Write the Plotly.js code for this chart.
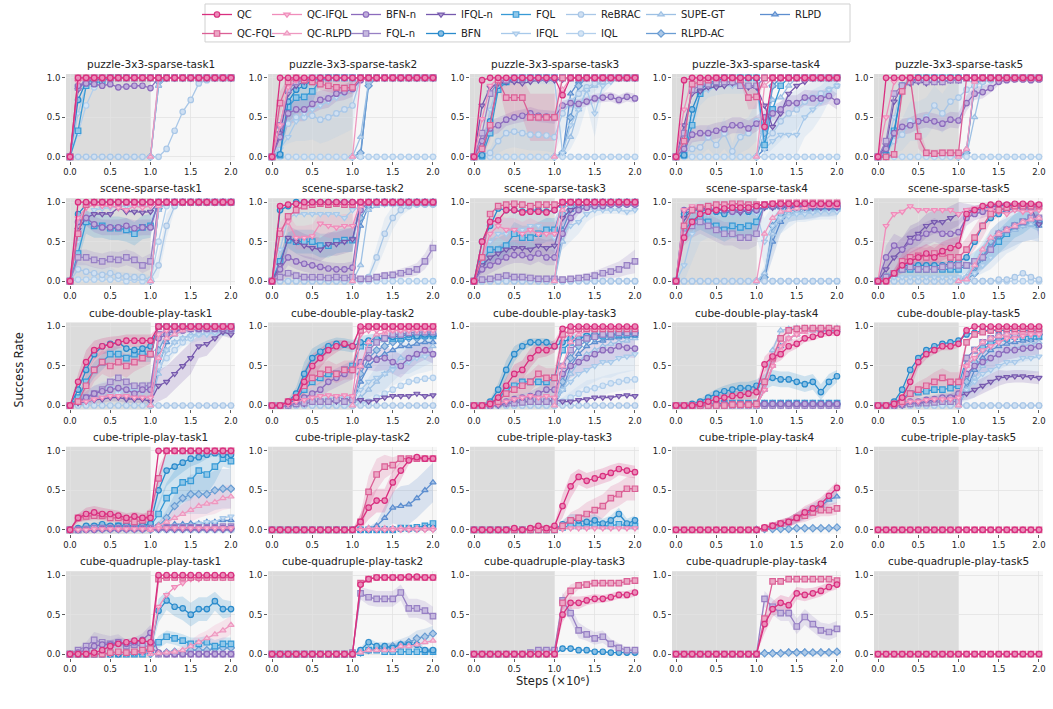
<!DOCTYPE html>
<html><head><meta charset="utf-8">
<script src="https://cdn.plot.ly/plotly-3.0.1.min.js"></script>
<style>html,body{margin:0;padding:0;background:#fff}#chart{width:1053px;height:709px}</style>
</head><body><div id="chart"></div>
<script>
// ---------- data ----------
const STEPS = [0,0.1,0.2,0.3,0.4,0.5,0.6,0.7,0.8,0.9,1.0,1.1,1.2,1.3,1.4,1.5,1.6,1.7,1.8,1.9,2.0];
const ONLINE_STEPS = [1.0,1.1,1.2,1.3,1.4,1.5,1.6,1.7,1.8,1.9,2.0];
const X_TICKS = [0,0.5,1,1.5,2];
const X_TICK_TEXT = ['0.0','0.5','1.0','1.5','2.0'];
const Y_TICKS = [0,0.5,1];
const Y_TICK_TEXT = ['0.0','0.5','1.0'];
const Z21 = [0,0,0,0,0,0,0,0,0,0,0,0,0,0,0,0,0,0,0,0,0];
const Z11 = [0,0,0,0,0,0,0,0,0,0,0];

const puzzle1 = {
 QC:[0,1,1,1,1,1,1,1,1,1,1, 1,1,1,1,1,1,1,1,1,1],
 QCFQL:[0,1,1,1,1,1,1,1,1,1,1, 1,1,1,1,1,1,1,1,1,1],
 QCIFQL:[0,.95,1,1,1,1,1,1,1,1,1, 1,1,1,1,1,1,1,1,1,1],
 QCRLPD:[0, 1,1,1,1,1,1,1,1,1,1],
 BFNn:[0,.9,.93,.92,.9,.92,.88,.89,.9,.9,.87, 1,1,1,1,1,1,1,1,1,1],
 FQLn:[0,.88,.98,1,1,1,1,1,1,1,1, 1,1,1,1,1,1,1,1,1,1],
 IFQLn:[0,.85,.97,.97,.98,1,1,1,1,1,1, 1,1,1,1,1,1,1,1,1,1],
 BFN:[0,.72,.95,.97,1,1,1,1,1,1,1, 1,1,1,1,1,1,1,1,1,1],
 FQL:[0,.33,.9,.93,.96,1,1,1,1,1,1, 1,1,1,1,1,1,1,1,1,1],
 IFQL:[0,.55,.9,.97,1,1,1,1,1,1,1, 1,1,1,1,1,1,1,1,1,1],
 ReBRAC:[0,0,0,0,0,0,0,0,0,0,0, 0,.1,.33,.57,.72,.93,.97,1,1,1],
 IQL:[0,.3,.65,.88,.95,.97,1,1,1,1,1, 1,1,1,1,1,1,1,1,1,1],
 SUPEGT:[0, .9,1,1,1,1,1,1,1,1,1],
 RLPDAC:[0, .95,1,1,1,1,1,1,1,1,1],
 RLPD:[0, .9,1,1,1,1,1,1,1,1,1]
};
const puzzle2 = {
 QC:[0,1,1,1,1,1,1,1,1,1,1, 1,1,1,1,1,1,1,1,1,1],
 QCFQL:[0,.68,.95,1,.97,.95,.92,.9,.88,.87,.88, 1,1,1,1,1,1,1,1,1,1],
 QCIFQL:[0,.4,.88,.97,1,1,1,1,1,1,1, 1,1,1,1,1,1,1,1,1,1],
 QCRLPD:[0, 1,1,1,1,1,1,1,1,1,1],
 BFNn:[0,.25,.55,.6,.6,.67,.72,.74,.8,.82,.86, .97,1,1,1,1,1,1,1,1,1],
 FQLn:[0,.4,.85,.95,.97,1,1,1,1,1,1, 1,1,1,1,1,1,1,1,1,1],
 IFQLn:[0,.3,.8,.9,.95,1,1,1,1,1,1, 1,1,1,1,1,1,1,1,1,1],
 BFN:[0,.03,.7,.85,.9,.97,1,1,1,1,1, 1,1,1,1,1,1,1,1,1,1],
 FQL:[0,.02,.63,.75,.76,.83,.97,1,1,1,1, 1,1,1,1,1,1,1,1,1,1],
 IFQL:[0,.1,.25,.45,.55,.6,.65,.7,.75,.8,.85, 1,1,1,1,1,1,1,1,1,1],
 ReBRAC:[0,.3,.42,.5,.5,.52,.47,.5,.55,.6,.65, 1,1,1,1,1,1,1,1,1,1],
 IQL:Z21,
 SUPEGT:[0, .25,.95,1,1,1,1,1,1,1,1],
 RLPDAC:[0, .05,.9,1,1,1,1,1,1,1,1],
 RLPD:[0, 0,.95,1,1,1,1,1,1,1,1]
};
const puzzle3 = {
 QC:[0,.97,1,1,1,1,1,1,1,1,1, .78,1,1,1,1,1,1,1,1,1],
 QCFQL:[0,.1,.4,.97,.75,.75,.75,.5,.5,.5,.5, 1,1,1,1,1,1,1,1,1,1],
 QCIFQL:[0,.48,.9,1,1,1,1,1,1,1,1, 1,1,1,1,1,1,1,1,1,1],
 QCRLPD:[0, .85,1,1,1,1,1,1,1,1,1],
 BFNn:[0,.2,.36,.4,.47,.5,.52,.55,.52,.51,.5, .65,.68,.67,.7,.74,.75,.76,.72,.76,.74],
 FQLn:[0,.3,.8,.95,.97,1,1,1,1,1,1, 1,1,1,1,1,1,1,1,1,1],
 IFQLn:[0,.65,.88,.93,.95,.95,.93,.95,.97,.97,.97, .98,1,1,1,1,1,1,1,1,1],
 BFN:[0,.02,.45,.9,.95,1,1,1,1,1,1, 1,1,1,1,1,1,1,1,1,1],
 FQL:[0,.01,.3,.85,.95,.98,1,1,1,1,1, 1,1,1,1,1,1,1,1,1,1],
 IFQL:[0,.1,.6,.9,.95,.97,.97,.98,.97,.97,.97, .05,.4,.6,.85,.55,.9,.95,1,1,1],
 ReBRAC:[0,.04,.05,.2,.3,.32,.3,.28,.28,.27,.25, .55,.7,.8,.88,.93,.96,1,1,1,1],
 IQL:Z21,
 SUPEGT:[0, .02,.25,.6,.85,.9,.95,1,1,1,1],
 RLPDAC:[0, .05,.5,.9,1,1,1,1,1,1,1],
 RLPD:[0, .02,.8,.95,1,1,1,1,1,1,1]
};
const puzzle4 = {
 QC:[0,.97,1,1,1,1,1,1,1,1,1, .38,1,1,1,1,1,1,1,1,1],
 QCFQL:[0,.2,.92,.95,.97,1,1,1,.98,.75,.76, 1,1,1,1,1,1,1,1,1,1],
 QCIFQL:[0,.6,1,1,1,1,1,1,1,1,1, 1,1,1,1,1,1,1,1,1,1],
 QCRLPD:[0, .9,1,1,1,1,1,1,1,1,1],
 BFNn:[0,.1,.28,.3,.3,.33,.35,.4,.4,.36,.42, .5,.55,.6,.68,.68,.75,.74,.74,.77,.7],
 FQLn:[0,.3,.85,.9,.92,.95,.95,.95,.9,.9,.9, 1,1,1,1,1,1,1,1,1,1],
 IFQLn:[0,.4,.8,.83,.88,.88,.9,.93,.93,.88,.88, .65,.38,.55,.8,.9,.95,1,1,1,1],
 BFN:[0,.02,.6,.85,.93,.97,1,1,1,1,1, 1,1,1,1,1,1,1,1,1,1],
 FQL:[0,.02,.4,.8,.9,.95,1,1,1,1,1, .15,.6,.9,1,1,1,1,1,1,1],
 IFQL:[0,.1,.5,.8,.85,.88,.9,.9,.9,.9,.9, .1,.2,.28,.28,.28,.5,.6,.7,.85,.9],
 ReBRAC:[0,.05,.1,.12,.25,.15,.3,.07,.25,.3,.45, .2,.3,.45,.55,.6,.7,.75,.8,.85,.9],
 IQL:Z21,
 SUPEGT:[0, .5,.72,.75,.9,1,1,1,1,1,1],
 RLPDAC:[0, .3,.9,1,1,1,1,1,1,1,1],
 RLPD:[0, .1,.9,1,1,1,1,1,1,1,1]
};
const puzzle5 = {
 QC:[0,1,1,1,1,1,1,1,1,1,1, 1,1,1,1,1,1,1,1,1,1],
 QCFQL:[0,0,.03,.83,1,.26,.05,.04,.05,.05,.05, 1,1,1,1,1,1,1,1,1,1],
 QCIFQL:[0,.5,.95,1,1,1,1,1,1,1,1, 1,1,1,1,1,1,1,1,1,1],
 QCRLPD:[0, .1,.95,1,1,1,1,1,1,1,1],
 BFNn:[0,.1,.3,.38,.4,.45,.47,.45,.42,.47,.46, .68,.8,.82,.87,.95,.97,.98,.98,.97,.98],
 FQLn:[0,.2,.8,.9,.95,.97,.95,.95,.95,.97,.97, 1,1,1,1,1,1,1,1,1,1],
 IFQLn:[0,.15,.7,.9,.93,.95,.93,.95,.95,.97,.97, 1,1,1,1,1,1,1,1,1,1],
 BFN:[0,0,.3,.9,.95,1,1,1,1,1,1, 1,1,1,1,1,1,1,1,1,1],
 FQL:[0,.02,.33,.9,.95,1,1,1,1,1,1, 1,1,1,1,1,1,1,1,1,1],
 IFQL:[0,.1,.5,.9,.95,.97,1,1,1,1,1, 1,1,1,1,1,1,1,1,1,1],
 ReBRAC:[0,.05,.2,.28,.45,.45,.5,.65,.55,.7,.75, .85,.9,.95,.97,1,1,1,1,1,1],
 IQL:Z21,
 SUPEGT:[0, .02,.5,.95,1,1,1,1,1,1,1],
 RLPDAC:[0, .05,.95,1,1,1,1,1,1,1,1],
 RLPD:[0, .1,.9,1,1,1,1,1,1,1,1]
};
const scene1 = {
 QC:[0,1,1,1,1,1,1,1,1,1,1, 1,1,1,1,1,1,1,1,1,1],
 QCFQL:[0,.6,.97,1,1,1,1,1,1,1,1, 1,1,1,1,1,1,1,1,1,1],
 QCIFQL:[0,.8,.93,.97,.95,.95,.93,.9,.95,.93,.95, 1,1,1,1,1,1,1,1,1,1],
 QCRLPD:[0, .95,1,1,1,1,1,1,1,1,1],
 BFNn:[0,.75,.8,.72,.68,.68,.68,.7,.67,.68,.68, 1,1,1,1,1,1,1,1,1,1],
 FQLn:[0,.3,.3,.27,.25,.28,.27,.3,.27,.2,.25, 1,1,1,1,1,1,1,1,1,1],
 IFQLn:[0,.65,.8,.85,.85,.85,.93,.88,.88,.87,.88, 1,1,1,1,1,1,1,1,1,1],
 BFN:[0,.85,.97,1,1,1,1,1,1,1,1, 1,1,1,1,1,1,1,1,1,1],
 FQL:[0,.35,.75,.7,.7,.67,.67,.65,.6,.68,.7, 1,1,1,1,1,1,1,1,1,1],
 IFQL:[0,.5,.8,.9,.92,.93,.95,.95,.95,.95,.95, 1,1,1,1,1,1,1,1,1,1],
 ReBRAC:[0,.15,.12,.1,.08,.1,.07,.06,.05,.05,.02, .2,.7,.95,1,1,1,1,1,1,1],
 IQL:[0,.02,.02,.02,.03,.02,.03,0,.02,0,0, .5,.95,1,1,1,1,1,1,1,1],
 SUPEGT:[0, .9,1,1,1,1,1,1,1,1,1],
 RLPDAC:[0, .92,1,1,1,1,1,1,1,1,1],
 RLPD:[0, .9,1,1,1,1,1,1,1,1,1]
};
const scene2 = {
 QC:[0,.95,.97,.98,1,1,1,1,1,1,1, 1,1,1,1,1,1,1,1,1,1],
 QCFQL:[0,.6,.82,.9,.95,.97,.98,.97,.98,.97,.97, 1,1,1,1,1,1,1,1,1,1],
 QCIFQL:[0,.65,.75,.55,.55,.57,.73,.7,.68,.7,.7, 1,1,1,1,1,1,1,1,1,1],
 QCRLPD:[0, .95,1,1,1,1,1,1,1,1,1],
 BFNn:[0,.15,.3,.25,.22,.2,.18,.16,.15,.15,.17, .9,1,1,1,1,1,1,1,1,1],
 FQLn:[0,.05,.1,.07,.05,.05,.05,.04,.05,.04,.05, .03,.03,.05,.07,.08,.1,.12,.15,.25,.42],
 IFQLn:[0,.2,.55,.5,.45,.42,.4,.47,.47,.5,.53, .97,1,1,1,1,1,1,1,1,1],
 BFN:[0,.9,.95,1,1,1,1,1,1,1,1, 1,1,1,1,1,1,1,1,1,1],
 FQL:[0,.25,.52,.5,.5,.5,.45,.45,.5,.52,.52, .97,1,1,1,1,1,1,1,1,1],
 IFQL:[0,.4,.8,.85,.85,.85,.85,.85,.85,.8,.9, .95,.97,.97,.97,.97,.97,.97,.97,.97,.97],
 ReBRAC:[0,0,0,0,0,0,0,0,0,0,0, .02,.05,.3,.6,.8,.9,.95,.97,.97,.97],
 IQL:Z21,
 SUPEGT:[0, .2,.9,.95,.97,.97,.97,.97,.97,.97,.97],
 RLPDAC:[0, .8,.97,1,1,1,1,1,1,1,1],
 RLPD:[0, .7,.95,1,1,1,1,1,1,1,1]
};
const scene3 = {
 QC:[0,.5,.75,.77,.9,.9,.87,.88,.88,.87,.9, 1,1,1,1,1,1,1,1,1,1],
 QCFQL:[0,.3,.85,.95,.97,.98,.97,.95,.97,.97,.97, 1,1,1,1,1,1,1,1,1,1],
 QCIFQL:[0,.3,.6,.7,.65,.65,.6,.65,.6,.6,.6, 1,1,1,1,1,1,1,1,1,1],
 QCRLPD:[0, .9,1,1,1,1,1,1,1,1,1],
 BFNn:[0,.15,.2,.25,.3,.33,.33,.3,.35,.3,.3, .6,.8,.9,.93,.95,.95,.97,.97,.97,.97],
 FQLn:[0,.02,.03,.05,.07,.05,.05,.04,.03,.03,.03, .02,.03,.04,.05,.07,.1,.12,.15,.2,.25],
 IFQLn:[0,.2,.3,.35,.4,.42,.42,.4,.45,.42,.45, .8,.9,.95,.97,.97,.97,.97,.97,.97,.97],
 BFN:[0,.5,.7,.92,.9,.9,.88,.9,.9,.88,.9, 1,1,1,1,1,1,1,1,1,1],
 FQL:[0,.25,.4,.4,.45,.6,.55,.55,.6,.65,.65, .97,1,1,1,1,1,1,1,1,1],
 IFQL:[0,.3,.5,.6,.6,.65,.65,.7,.7,.65,.55, .6,.7,.75,.85,.9,.9,.9,.9,.88,.9],
 ReBRAC:Z21,
 IQL:Z21,
 SUPEGT:[0, .5,.8,.9,.95,.97,.97,.97,.97,.97,.97],
 RLPDAC:[0, .85,.95,1,1,1,1,1,1,1,1],
 RLPD:[0, .65,.9,.95,.97,.97,.97,.97,.97,.97,.97]
};
const scene4 = {
 QC:[0,.55,.75,.85,.88,.9,.92,.93,.93,.93,.95, .97,.98,.98,.98,.98,.98,.98,.98,.98,.98],
 QCFQL:[0,.7,.9,.93,.95,.97,.97,.98,.98,.97,.97, .97,.98,.99,.99,.99,.99,.99,.99,.99,.99],
 QCIFQL:[0,.9,.95,.95,.95,.97,.97,.97,.97,.97,.97, .97,.97,.97,.97,.97,.97,.97,.97,.97,.97],
 QCRLPD:[0, .6,.8,.88,.9,.92,.93,.95,.95,.95,.95],
 BFNn:[0,.9,.92,.92,.9,.9,.9,.88,.9,.9,.9, .95,.95,.95,.95,.95,.95,.95,.95,.95,.95],
 FQLn:[0,.6,.7,.75,.7,.65,.6,.6,.55,.55,.6, .97,.97,.97,.97,.97,.97,.97,.97,.97,.97],
 IFQLn:[0,.8,.9,.92,.92,.9,.9,.88,.87,.9,.9, .93,.93,.93,.93,.93,.93,.93,.93,.93,.93],
 BFN:[0,.85,.9,.9,.9,.88,.85,.9,.9,.88,.9, .95,.95,.95,.95,.95,.95,.95,.95,.95,.95],
 FQL:[0,.65,.75,.8,.75,.7,.65,.7,.68,.7,.75, .95,.95,.95,.95,.95,.95,.95,.95,.95,.95],
 IFQL:[0,.2,.6,.8,.85,.85,.85,.85,.85,.85,.85, .5,.7,.8,.82,.85,.85,.87,.88,.88,.88],
 ReBRAC:Z21,
 IQL:Z21,
 SUPEGT:[0, .1,.6,.8,.85,.87,.88,.88,.9,.9,.9],
 RLPDAC:[0, .05,.7,.85,.9,.9,.92,.9,.92,.93,.93],
 RLPD:[0, .02,.5,.75,.85,.87,.88,.9,.9,.9,.92]
};
const scene5 = {
 QC:[0,0,.1,.2,.25,.3,.35,.3,.38,.42,.45, .85,.9,.95,.97,.98,.97,.98,.98,.98,.97],
 QCFQL:[0,0,.1,.25,.3,.32,.3,.35,.35,.3,.3, .4,.55,.7,.85,.9,.93,.95,.95,.95,.95],
 QCIFQL:[0,.7,.85,.88,.95,.9,.9,.9,.9,.9,.85, .9,.92,.93,.9,.88,.85,.9,.88,.88,.9],
 QCRLPD:[0, .02,.2,.4,.55,.6,.65,.7,.75,.78,.8],
 BFNn:[0,.3,.45,.4,.5,.55,.6,.65,.6,.6,.62, .8,.85,.88,.9,.92,.9,.93,.92,.93,.95],
 FQLn:[0,.05,.1,.15,.18,.15,.15,.15,.18,.2,.2, .2,.25,.3,.4,.6,.65,.7,.75,.8,.8],
 IFQLn:[0,.15,.3,.4,.55,.6,.7,.75,.75,.8,.85, .9,.9,.92,.95,.95,.97,.95,.95,.93,.72],
 BFN:[0,.05,.1,.2,.2,.2,.2,.2,.2,.22,.25, .3,.5,.7,.8,.85,.9,.92,.93,.95,.95],
 FQL:[0,.05,.1,.15,.15,.15,.15,.15,.15,.15,.15, .2,.25,.3,.4,.5,.6,.7,.75,.8,.75],
 IFQL:[0,.05,.05,.05,.05,.05,.05,.05,.05,.05,.05, .05,.1,.2,.3,.5,.6,.7,.75,.8,.8],
 ReBRAC:[0,0,0,0,0,0,0,0,0,0,0, 0,0,0,0,.02,.02,.05,.1,.05,.02],
 IQL:Z21,
 SUPEGT:[0, .05,.2,.3,.4,.5,.6,.65,.7,.72,.75],
 RLPDAC:[0, .02,.1,.3,.5,.6,.65,.7,.72,.75,.75],
 RLPD:[0, .05,.15,.3,.45,.55,.6,.65,.7,.72,.7]
};
const cubeDouble1 = {
 QC:[0,.3,.55,.7,.75,.77,.8,.82,.82,.82,.82, 1,1,1,1,1,1,1,1,1,1],
 QCFQL:[0,.05,.25,.45,.55,.5,.55,.5,.55,.6,.65, 1,1,1,1,1,1,1,1,1,1],
 QCIFQL:[0,.05,.05,.08,.1,.12,.12,.12,.1,.1,.1, .9,.95,.97,.98,1,1,1,1,1,1],
 QCRLPD:[0, .6,.85,.9,.95,.97,.98,.98,.98,.98,.98],
 BFNn:[0,.05,.1,.15,.18,.2,.22,.2,.15,.2,.2, .85,.9,.95,.95,.97,.97,.97,.97,.97,.97],
 FQLn:[0,.05,.1,.15,.2,.3,.35,.3,.25,.25,.25, .9,.95,.97,.97,.97,.97,.97,.97,.97,.97],
 IFQLn:[0,.03,.05,.07,.08,.1,.1,.08,.08,.08,.05, .25,.3,.4,.5,.6,.75,.78,.85,.93,.9],
 BFN:[0,.2,.45,.65,.75,.78,.8,.72,.7,.72,.75, 1,1,1,1,1,1,1,1,1,1],
 FQL:[0,.1,.3,.45,.55,.65,.65,.6,.65,.65,.65, 1,1,1,1,1,1,1,1,1,1],
 IFQL:[0,.05,.1,.15,.2,.22,.2,.2,.18,.18,.2, .6,.7,.8,.85,.88,.9,.9,.92,.93,.93],
 ReBRAC:Z21,
 IQL:[0,.02,.05,.08,.1,.12,.15,.2,.25,.25,.22, .5,.6,.7,.8,.85,.9,.92,.92,.93,.95],
 SUPEGT:[0, .4,.7,.8,.85,.9,.9,.92,.93,.95,.95],
 RLPDAC:[0, .7,.9,.95,.97,.98,.98,.98,.98,.98,.98],
 RLPD:[0, .5,.8,.9,.95,.97,.97,.97,.97,.97,.97]
};
const cubeDouble2 = {
 QC:[0,0,.05,.1,.3,.5,.6,.7,.75,.78,.75, 1,1,1,1,1,1,1,1,1,1],
 QCFQL:[0,0,.05,.1,.25,.35,.4,.45,.4,.45,.45, .95,1,1,1,1,1,1,1,1,1],
 QCIFQL:[0,0,.02,.05,.07,.1,.12,.13,.12,.13,.12, .9,.95,.95,.95,.95,.95,.95,.95,.95,.95],
 QCRLPD:[0, .5,.8,.9,.92,.95,.95,.96,.97,.97,.97],
 BFNn:[0,0,.02,.05,.1,.15,.2,.3,.35,.4,.45, .55,.6,.58,.6,.55,.5,.6,.65,.7,.65],
 FQLn:[0,0,0,.02,.03,.05,.05,.05,.07,.05,.07, .5,.7,.8,.85,.9,.9,.92,.93,.93,.93],
 IFQLn:[0,0,0,.02,.02,.05,.05,.05,.05,.07,.07, .07,.05,.07,.1,.12,.12,.12,.15,.12,.13],
 BFN:[0,0,.05,.15,.4,.6,.68,.75,.78,.77,.75, .8,.82,.85,.85,.87,.88,.9,.88,.9,.9],
 FQL:[0,0,.02,.08,.2,.3,.35,.4,.4,.45,.5, .75,.8,.82,.85,.85,.85,.87,.88,.88,.88],
 IFQL:[0,0,0,.02,.05,.05,.07,.08,.1,.1,.1, .2,.3,.35,.4,.45,.5,.55,.6,.62,.65],
 ReBRAC:Z21,
 IQL:[0,0,0,0,0,0,0,0,0,0,0, .02,.05,.1,.15,.2,.25,.3,.32,.34,.35],
 SUPEGT:[0, .1,.2,.3,.4,.5,.6,.6,.65,.7,.75],
 RLPDAC:[0, .4,.6,.7,.75,.8,.82,.85,.85,.87,.88],
 RLPD:[0, .3,.5,.6,.65,.7,.75,.75,.78,.8,.8]
};
const cubeDouble3 = {
 QC:[0,0,.02,.1,.25,.4,.45,.6,.7,.7,.75, .97,1,1,1,1,1,1,1,1,1],
 QCFQL:[0,0,.02,.05,.15,.2,.25,.3,.4,.35,.35, .9,.95,.97,.97,.97,.97,.97,.97,.97,.97],
 QCIFQL:[0,0,0,.02,.05,.08,.1,.12,.1,.12,.1, .85,.9,.95,.97,.97,.97,.97,.97,.97,.97],
 QCRLPD:[0, .5,.8,.9,.95,.95,.97,.97,.97,.98,.98],
 BFNn:[0,0,0,.02,.05,.08,.1,.12,.15,.2,.2, .4,.5,.55,.6,.65,.7,.7,.75,.73,.72],
 FQLn:[0,0,0,.02,.03,.03,.04,.05,.05,.05,.05, .5,.7,.8,.85,.87,.9,.9,.92,.92,.92],
 IFQLn:[0,0,0,0,.02,.03,.05,.05,.05,.05,.07, .05,.05,.07,.08,.1,.1,.1,.12,.13,.12],
 BFN:[0,0,.05,.2,.45,.65,.75,.8,.8,.8,.75, .8,.85,.85,.88,.9,.9,.9,.92,.92,.9],
 FQL:[0,0,.02,.08,.2,.25,.3,.3,.3,.3,.35, .7,.8,.85,.87,.88,.88,.9,.9,.9,.92],
 IFQL:[0,0,0,.02,.03,.05,.05,.05,.07,.07,.08, .2,.3,.4,.45,.5,.55,.55,.6,.62,.65],
 ReBRAC:Z21,
 IQL:[0,0,0,0,0,0,0,0,0,0,0, .05,.1,.15,.2,.22,.25,.28,.3,.32,.33],
 SUPEGT:[0, .2,.4,.55,.65,.7,.75,.78,.8,.82,.85],
 RLPDAC:[0, .3,.6,.75,.82,.85,.87,.88,.9,.9,.92],
 RLPD:[0, .2,.5,.65,.75,.8,.82,.85,.86,.87,.88]
};
const cubeDouble4 = {
 QC:[0,0,0,.02,.05,.08,.1,.12,.13,.15,.17, .52,.62,.65,.75,.78,.85,.87,.9,.92,.92],
 QCFQL:[0,0,0,0,0,0,0,.01,.01,.01,.02, .3,.6,.85,.95,.97,.98,.98,.98,.98,.97],
 QCIFQL:[0,0,0,0,0,0,0,0,0,0,0, .2,.5,.75,.85,.9,.95,.97,.97,.97,.97],
 QCRLPD:[0, .2,.5,.7,.85,.9,.93,.95,.97,.97,.97],
 BFNn:[0,0,0,0,.01,.01,.02,.02,.02,.02,.02, .02,.02,.02,.02,.02,.02,.02,.02,.02,.02],
 FQLn:Z21,
 IFQLn:Z21,
 BFN:[0,0,.02,.05,.1,.15,.18,.2,.22,.22,.25, .3,.35,.33,.33,.3,.27,.3,.17,.3,.37],
 FQL:[0,0,0,.01,.02,.02,.03,.03,.03,.03,.03, .03,.03,.03,.03,.03,.03,.03,.03,.03,.03],
 IFQL:Z21,
 ReBRAC:Z21,
 IQL:Z21,
 SUPEGT:[0, .3,.7,.95,.97,.98,.98,.98,.98,.98,.98],
 RLPDAC:[0, .02,.02,.02,.02,.02,.02,.02,.02,.02,.02],
 RLPD:[0, .2,.5,.75,.85,.9,.93,.95,.95,.95,.95]
};
const cubeDouble5 = {
 QC:[0,0,.02,.1,.3,.55,.65,.7,.75,.75,.78, .95,1,1,1,1,1,1,1,1,1],
 QCFQL:[0,0,.02,.05,.15,.2,.25,.3,.35,.3,.3, .8,.9,.93,.95,.97,.97,.97,.97,.97,.97],
 QCIFQL:[0,0,0,.02,.05,.05,.07,.08,.08,.08,.1, .5,.6,.7,.75,.8,.85,.85,.88,.9,.9],
 QCRLPD:[0, .5,.7,.8,.85,.88,.9,.92,.93,.93,.95],
 BFNn:[0,0,0,.02,.05,.05,.07,.08,.1,.1,.15, .4,.5,.55,.6,.65,.7,.7,.72,.73,.75],
 FQLn:[0,0,0,.01,.02,.03,.03,.04,.05,.05,.05, .6,.7,.8,.85,.88,.9,.9,.92,.93,.93],
 IFQLn:[0,0,0,0,.02,.03,.05,.07,.08,.1,.12, .15,.2,.25,.3,.35,.36,.37,.37,.36,.35],
 BFN:[0,0,.05,.2,.45,.6,.7,.75,.78,.8,.82, .9,.92,.95,.95,.95,.95,.95,.95,.95,.95],
 FQL:[0,0,.02,.08,.15,.17,.18,.2,.2,.22,.25, .6,.7,.75,.8,.85,.85,.87,.87,.88,.88],
 IFQL:[0,0,0,.02,.03,.05,.05,.05,.06,.06,.07, .2,.3,.4,.45,.5,.55,.55,.6,.6,.62],
 ReBRAC:Z21,
 IQL:Z21,
 SUPEGT:[0, .2,.35,.5,.6,.65,.7,.72,.75,.78,.8],
 RLPDAC:[0, .3,.55,.7,.78,.82,.85,.87,.88,.9,.9],
 RLPD:[0, .2,.45,.6,.7,.75,.78,.8,.82,.83,.85]
};
const cubeTriple1 = {
 QC:[0,.15,.2,.22,.2,.2,.18,.15,.17,.15,.15, 1,1,1,1,1,1,1,1,1,1],
 QCFQL:[0,.15,.17,.18,.18,.15,.15,.12,.1,.12,.2, .65,1,1,1,1,1,1,1,1,1],
 QCIFQL:[0,0,0,.01,.01,.01,.01,.01,.01,.01,.01, .02,.02,.02,.02,.02,.02,.02,.02,.02,.02],
 QCRLPD:[0, .05,.1,.15,.2,.25,.3,.33,.35,.4,.42],
 BFNn:[0,0,0,0,.01,.01,.01,.01,.01,.01,.01, .02,.02,.02,.02,.02,.02,.02,.02,.02,.02],
 FQLn:[0,0,.01,.02,.02,.02,.02,.02,.02,.02,.02, .03,.03,.03,.03,.03,.03,.03,.03,.04,.04],
 IFQLn:Z21,
 BFN:[0,.02,.05,.05,.07,.05,.05,.05,.05,.05,.08, .5,.75,.8,.85,.9,.92,.95,.97,.95,.95],
 FQL:[0,0,.02,.02,.03,.03,.05,.05,.05,.05,.05, .2,.4,.5,.6,.62,.75,.7,.8,.9,.87],
 IFQL:[0,0,0,0,0,0,0,0,0,0,0, .02,.03,.05,.05,.05,.08,.1,.1,.15,.17],
 ReBRAC:Z21,
 IQL:Z21,
 SUPEGT:Z11,
 RLPDAC:[0, .05,.15,.3,.4,.45,.45,.45,.5,.52,.52],
 RLPD:[0, .02,.05,.07,.07,.08,.08,.1,.1,.12,.12]
};
const cubeTriple2 = {
 QC:[0,0,0,0,0,0,0,0,0,0,0, .1,.28,.37,.37,.6,.75,.88,.92,.9,.9],
 QCFQL:[0,0,0,0,0,0,0,0,0,0,0, .1,.48,.7,.8,.82,.9,.9,.9,.9,.9],
 QCIFQL:Z21,
 QCRLPD:[0, .01,.02,.02,.02,.02,.02,.02,.02,.02,.02],
 BFN:[0,0,0,0,0,0,0,0,0,0,0, 0,0,.01,.01,.01,.01,.01,.01,.02,.02],
 FQL:[0,0,0,0,0,0,0,0,0,0,0, 0,0,0,0,0,.02,.02,.03,.05,.08],
 RLPD:[0, 0,.02,.05,.15,.28,.3,.32,.4,.5,.6]
};
const cubeTriple3 = {
 QC:[0,0,0,0,0,.02,0,.02,.05,.02,.05, .3,.55,.67,.62,.65,.68,.72,.77,.75,.73],
 QCFQL:[0,0,0,0,0,0,0,0,0,0,0, .05,.12,.15,.2,.25,.3,.4,.45,.52,.52],
 QCIFQL:[0,0,0,0,0,0,0,0,0,0,0, .01,.02,.02,.02,.02,.02,.02,.02,.02,.02],
 BFN:[0,0,0,0,0,0,0,0,0,0,0, .07,.12,.12,.1,.12,.08,.12,.2,.08,.12],
 FQL:[0,0,0,0,0,0,0,0,0,0,0, .03,.05,.05,.05,.07,.05,.05,.07,.05,.05]
};
const cubeTriple4 = {
 QC:[0,0,0,0,0,0,0,0,0,0,0, .03,.05,.08,.1,.15,.22,.27,.33,.43,.53],
 QCFQL:[0,0,0,0,0,0,0,0,0,0,0, .02,.05,.08,.1,.15,.18,.22,.25,.25,.27],
 RLPDAC:[0, .01,.01,.01,.01,.02,.02,.02,.02,.02,.03],
 RLPD:[0, .02,.05,.07,.1,.15,.2,.25,.3,.38,.42]
};
const cubeTriple5 = {
 QCFQL:Z21,
 QC:Z21
};
const cubeQuad1 = {
 QC:[0,0,0,.02,.05,.1,.13,.15,.17,.17,.15, 1,1,1,1,1,1,1,1,1,1],
 QCFQL:[0,0,0,0,0,.02,.03,.02,.03,.05,.07, .95,.97,.97,.97,.97,.97,.97,.97,.97,.97],
 QCIFQL:[0,0,0,0,0,0,.01,.01,.02,.02,.03, .6,.75,.85,.9,.95,.95,.97,.97,.97,.98],
 QCRLPD:[0, .01,.02,.03,.05,.1,.15,.2,.25,.3,.37],
 BFNn:[0,.02,.05,.1,.12,.12,.15,.13,.15,.18,.27, .02,0,0,0,0,0,0,0,0,0],
 FQLn:[0,.05,.1,.18,.15,.13,.15,.1,.12,.1,.1, 0,0,0,0,0,0,0,0,0,0],
 BFN:[0,0,0,0,0,0,0,.02,.02,.03,.05, .55,.68,.6,.58,.5,.57,.57,.67,.57,.57],
 FQL:[0,0,0,0,0,0,0,0,0,0,.05, .15,.22,.2,.17,.13,.13,.15,.1,.13,.13],
 RLPDAC:[0, .01,.02,.03,.03,.05,.05,.05,.07,.08,.08]
};
const cubeQuad2 = {
 QC:[0,0,0,0,0,0,0,0,0,0,0, .88,.95,.97,.97,.97,.97,.98,.98,.97,.97],
 QCFQL:[0,0,0,0,0,0,0,0,0,0,0, .9,.95,.97,.97,.97,.97,.97,.97,.97,.97],
 QCRLPD:[0, .02,.05,.05,.05,.05,.1,.1,.12,.15,.17],
 FQLn:[0,0,0,0,0,0,0,0,0,0,.02, .77,.72,.7,.7,.7,.78,.58,.58,.55,.48],
 BFN:[0,0,0,0,0,0,0,0,0,0,0, .05,.15,.1,.1,.08,.12,.12,.12,.05,.05],
 FQL:[0,0,0,0,0,0,0,0,0,0,0, .02,.05,.05,.03,.03,.03,.03,.03,.03,.03],
 RLPDAC:[0, .02,.05,.07,.08,.1,.12,.15,.2,.22,.26]
};
const cubeQuad3 = {
 QC:[0,0,0,0,0,0,0,0,0,0,0, .5,.65,.65,.68,.7,.7,.72,.75,.75,.78],
 QCFQL:[0,0,0,0,0,0,0,0,0,0,0, .65,.8,.87,.88,.9,.9,.9,.9,.92,.93],
 FQLn:[0,0,0,0,0,0,0,.02,.05,.05,.05, .68,.52,.3,.25,.2,.22,.13,.08,.05,.05],
 BFN:[0,0,0,0,0,0,0,0,0,0,0, .07,.07,.05,.05,.03,.03,.02,.02,.02,.02]
};
const cubeQuad4 = {
 QC:[0,0,0,0,0,0,0,0,0,0,0, .38,.57,.65,.62,.77,.75,.77,.8,.85,.88],
 QCFQL:[0,0,0,0,0,0,0,0,0,0,0, .45,.92,.92,.95,.95,.95,.95,.95,.95,.93],
 FQLn:[0,0,0,0,0,0,0,0,0,0,0, .7,.6,.52,.52,.35,.47,.38,.3,.28,.32],
 RLPDAC:[0, .01,.01,.01,.02,.02,.02,.02,.02,.02,.03],
 RLPD:[0, .02,.02,.02,.03,.03,.03,.02,.03,.03,.03]
};
const cubeQuad5 = {
 QCFQL:Z21,
 QC:Z21
};

// half-widths of the shaded bands
const puzzle2Band = {
 QCFQL:[0,.15,.05,.02,.05,.05,.07,.08,.08,.08,.08, 0,0,0,0,0,0,0,0,0,0],
 BFNn:[0,.15,.15,.15,.15,.12,.12,.12,.1,.1,.1, .03,0,0,0,0,0,0,0,0,0],
 ReBRAC:[0,.2,.25,.3,.3,.3,.3,.3,.3,.3,.3, 0,0,0,0,0,0,0,0,0,0],
 FQL:[0,.05,.2,.2,.2,.15,.05,0,0,0,0, 0,0,0,0,0,0,0,0,0,0]
};
const puzzle3Band = {
 QCFQL:[0,.1,.2,.05,.25,.25,.25,.3,.3,.3,.3, 0,0,0,0,0,0,0,0,0,0],
 BFNn:[0,.1,.1,.1,.08,.08,.08,.08,.08,.08,.08, .06,.06,.06,.06,.06,.06,.06,.06,.06,.06],
 IFQL:[0,.1,.2,.1,.05,.05,.05,.05,.05,.05,.05, .05,.3,.3,.2,.3,.1,.05,0,0,0],
 ReBRAC:[0,.05,.05,.15,.2,.2,.2,.2,.2,.2,.2, .25,.25,.2,.15,.1,.05,0,0,0,0]
};
const puzzle4Band = {
 BFNn:[0,.1,.1,.1,.1,.1,.1,.1,.1,.1,.1, .1,.1,.1,.1,.1,.1,.1,.1,.1,.1],
 QCFQL:[0,.1,.05,.05,.03,0,0,0,.02,.15,.15, 0,0,0,0,0,0,0,0,0,0],
 IFQL:[0,.1,.2,.15,.1,.1,.1,.1,.1,.1,.1, .1,.2,.25,.25,.25,.25,.25,.2,.15,.1],
 ReBRAC:[0,.05,.1,.1,.15,.15,.2,.1,.2,.2,.25, .2,.2,.25,.25,.25,.2,.2,.15,.15,.1]
};
const puzzle5Band = {
 QCFQL:[0,0,.03,.1,0,.15,.05,.05,.05,.05,.05, 0,0,0,0,0,0,0,0,0,0],
 BFNn:[0,.1,.1,.1,.1,.1,.1,.1,.1,.1,.1, .1,.08,.08,.06,.04,.03,.02,.02,.02,.02],
 ReBRAC:[0,.05,.15,.2,.25,.25,.25,.25,.25,.25,.25, .2,.15,.1,.05,0,0,0,0,0,0]
};
const scene1Band = {
 FQLn:[0,.1,.1,.1,.1,.1,.1,.1,.1,.1,.1, 0,0,0,0,0,0,0,0,0,0],
 FQL:[0,.1,.15,.15,.15,.15,.15,.15,.15,.15,.15, 0,0,0,0,0,0,0,0,0,0],
 BFNn:[0,.1,.1,.1,.1,.1,.1,.1,.1,.1,.1, 0,0,0,0,0,0,0,0,0,0],
 ReBRAC:[0,.1,.1,.08,.08,.08,.05,.05,.05,.05,.05, .15,.15,.05,0,0,0,0,0,0,0]
};
const scene2Band = {
 FQL:[0,.1,.1,.15,.15,.15,.15,.15,.15,.15,.15, .02,0,0,0,0,0,0,0,0,0],
 IFQLn:[0,.1,.15,.15,.15,.15,.15,.15,.15,.15,.15, .02,0,0,0,0,0,0,0,0,0],
 BFNn:[0,.1,.1,.1,.1,.1,.08,.08,.08,.08,.08, .08,0,0,0,0,0,0,0,0,0],
 QCIFQL:[0,.1,.1,.15,.15,.15,.15,.15,.15,.15,.15, 0,0,0,0,0,0,0,0,0,0],
 FQLn:[0,.05,.05,.05,.04,.04,.04,.04,.04,.04,.04, .03,.03,.04,.05,.05,.06,.07,.08,.1,.12],
 ReBRAC:[0,0,0,0,0,0,0,0,0,0,0, .02,.05,.15,.2,.15,.08,.05,.02,.02,.02]
};
const scene3Band = {
 FQL:[0,.1,.15,.15,.15,.15,.15,.15,.15,.15,.15, .02,0,0,0,0,0,0,0,0,0],
 IFQLn:[0,.1,.1,.1,.1,.1,.1,.1,.1,.1,.1, .1,.05,.03,0,0,0,0,0,0,0],
 BFNn:[0,.1,.1,.1,.1,.1,.1,.1,.1,.1,.1, .15,.1,.05,.04,.03,.03,.02,.02,.02,.02],
 QCIFQL:[0,.1,.15,.15,.15,.15,.15,.15,.15,.15,.15, 0,0,0,0,0,0,0,0,0,0],
 FQLn:[0,.03,.03,.04,.05,.05,.05,.05,.04,.04,.04, .03,.03,.04,.05,.06,.07,.08,.1,.12,.15],
 IFQL:[0,.15,.2,.2,.2,.2,.2,.2,.2,.2,.2, .2,.2,.15,.1,.08,.05,.05,.05,.05,.05]
};
const scene4Band = {
 IFQL:[0,.2,.35,.3,.3,.3,.3,.3,.3,.3,.3, .3,.25,.2,.15,.1,.1,.1,.1,.1,.1],
 FQLn:[0,.15,.15,.15,.15,.15,.15,.15,.15,.15,.15, .03,0,0,0,0,0,0,0,0,0],
 FQL:[0,.15,.15,.15,.15,.15,.15,.15,.15,.15,.15, .03,0,0,0,0,0,0,0,0,0],
 SUPEGT:[0, .1,.2,.15,.1,.1,.1,.1,.08,.08,.08],
 RLPD:[0, .05,.2,.15,.1,.1,.1,.1,.08,.08,.08]
};
const scene5Band = {
 QC:[0,0,.05,.1,.12,.12,.12,.12,.12,.12,.12, .08,.05,.03,.02,.02,.02,.02,.02,.02,.02],
 QCFQL:[0,0,.05,.1,.12,.12,.12,.12,.12,.12,.12, .15,.15,.15,.1,.08,.05,.05,.05,.05,.05],
 BFNn:[0,.15,.15,.15,.15,.15,.15,.15,.15,.15,.15, .1,.08,.08,.07,.06,.06,.05,.05,.05,.05],
 IFQLn:[0,.1,.15,.15,.15,.15,.15,.15,.15,.15,.15, .08,.06,.05,.04,.03,.03,.03,.03,.05,.15],
 FQL:[0,.05,.05,.1,.1,.1,.1,.1,.1,.1,.1, .1,.12,.15,.15,.15,.15,.15,.15,.12,.12],
 SUPEGT:[0, .05,.15,.2,.25,.25,.25,.25,.2,.2,.2],
 RLPD:[0, .05,.1,.15,.2,.2,.2,.2,.2,.2,.2]
};
const cubeDouble1Band = {
 QC:[0,.1,.15,.12,.1,.1,.08,.08,.08,.08,.08, 0,0,0,0,0,0,0,0,0,0],
 QCFQL:[0,.05,.15,.15,.15,.15,.15,.15,.12,.12,.12, 0,0,0,0,0,0,0,0,0,0],
 BFNn:[0,.05,.08,.1,.1,.1,.1,.1,.1,.1,.1, .1,.08,.05,.05,.03,.03,.03,.03,.03,.03],
 IFQLn:[0,.03,.05,.05,.05,.05,.05,.05,.05,.05,.05, .2,.2,.2,.2,.2,.15,.15,.1,.05,.05],
 FQL:[0,.05,.1,.1,.1,.1,.1,.1,.1,.1,.1, 0,0,0,0,0,0,0,0,0,0],
 IFQL:[0,.05,.08,.1,.1,.1,.1,.1,.1,.1,.1, .2,.2,.15,.1,.1,.08,.08,.06,.05,.05]
};
const cubeDouble2Band = {
 QC:[0,0,.03,.05,.15,.15,.12,.1,.08,.05,.05, 0,0,0,0,0,0,0,0,0,0],
 QCFQL:[0,0,.03,.05,.1,.12,.12,.12,.12,.12,.12, .03,0,0,0,0,0,0,0,0,0],
 BFNn:[0,0,.02,.04,.06,.08,.1,.12,.12,.12,.12, .15,.15,.15,.15,.15,.15,.15,.12,.12,.12],
 BFN:[0,0,.03,.08,.15,.12,.1,.08,.08,.08,.08, .08,.08,.06,.06,.05,.05,.05,.05,.05,.05],
 IFQL:[0,0,0,.02,.03,.03,.04,.05,.05,.05,.05, .15,.2,.2,.2,.2,.2,.2,.2,.2,.2],
 SUPEGT:[0, .1,.15,.2,.2,.2,.2,.2,.2,.2,.2]
};
const cubeDouble3Band = {
 QC:[0,0,.02,.05,.1,.12,.12,.12,.1,.08,.08, .02,0,0,0,0,0,0,0,0,0],
 QCFQL:[0,0,.02,.04,.08,.1,.1,.12,.12,.12,.12, .05,0,0,0,0,0,0,0,0,0],
 BFN:[0,0,.03,.08,.12,.1,.06,.05,.05,.05,.05, .08,.06,.06,.05,.05,.05,.05,.05,.05,.05],
 BFNn:[0,0,0,.02,.03,.05,.05,.06,.08,.1,.1, .15,.15,.15,.15,.15,.15,.15,.12,.12,.12],
 IFQL:[0,0,0,.02,.02,.03,.03,.03,.04,.04,.05, .15,.2,.2,.2,.2,.2,.2,.2,.2,.2],
 IQL:[0,0,0,0,0,0,0,0,0,0,0, .05,.08,.1,.12,.12,.12,.12,.12,.12,.12]
};
const cubeDouble4Band = {
 QC:[0,0,0,.02,.04,.05,.06,.06,.06,.07,.08, .1,.1,.08,.08,.06,.05,.05,.04,.04,.04],
 QCFQL:[0,0,0,0,0,0,0,0,0,0,0, .15,.15,.1,.05,.03,.02,.02,.02,.02,.02],
 BFN:[0,0,.02,.03,.05,.06,.07,.08,.08,.08,.08, .1,.1,.1,.1,.1,.1,.1,.1,.1,.08]
};
const cubeDouble5Band = {
 QC:[0,0,.02,.05,.1,.08,.06,.05,.05,.05,.05, 0,0,0,0,0,0,0,0,0,0],
 QCFQL:[0,0,.02,.04,.08,.1,.1,.12,.12,.12,.12, .05,0,0,0,0,0,0,0,0,0],
 BFNn:[0,0,0,.02,.03,.04,.05,.05,.06,.06,.08, .15,.15,.15,.15,.12,.12,.1,.1,.1,.1],
 IFQLn:[0,0,0,0,.02,.03,.04,.05,.05,.05,.06, .08,.1,.1,.1,.1,.08,.08,.08,.08,.08],
 IFQL:[0,0,0,.02,.02,.03,.03,.03,.04,.04,.04, .15,.2,.2,.2,.2,.2,.2,.2,.2,.2],
 SUPEGT:[0, .1,.15,.2,.2,.2,.2,.2,.2,.2,.2]
};
const cubeTriple1Band = {
 QC:[0,.05,.08,.08,.08,.06,.06,.06,.06,.06,.06, 0,0,0,0,0,0,0,0,0,0],
 QCFQL:[0,.05,.06,.06,.06,.06,.06,.06,.06,.06,.08, .15,0,0,0,0,0,0,0,0,0],
 BFN:[0,.02,.03,.03,.04,.03,.03,.03,.03,.03,.05, .2,.2,.15,.12,.1,.08,.05,.03,.05,.05],
 FQL:[0,0,.02,.02,.02,.02,.03,.03,.03,.03,.03, .15,.2,.25,.25,.25,.25,.25,.2,.1,.1],
 RLPDAC:[0, .05,.1,.15,.2,.25,.25,.25,.25,.25,.25],
 QCRLPD:[0, .05,.08,.1,.12,.15,.15,.15,.15,.15,.15]
};
const cubeTriple2Band = {
 QC:[0,0,0,0,0,0,0,0,0,0,0, .1,.15,.15,.15,.15,.12,.05,.03,.03,.03],
 QCFQL:[0,0,0,0,0,0,0,0,0,0,0, .1,.2,.2,.15,.1,.05,.03,.03,.03,.03],
 RLPD:[0, 0,.02,.05,.15,.2,.25,.25,.25,.25,.25]
};
const cubeTriple3Band = {
 QC:[0,0,0,0,0,.02,0,.02,.03,.02,.03, .15,.15,.1,.1,.1,.1,.1,.08,.08,.08],
 QCFQL:[0,0,0,0,0,0,0,0,0,0,0, .05,.1,.12,.15,.15,.15,.15,.15,.15,.15],
 BFN:[0,0,0,0,0,0,0,0,0,0,0, .05,.08,.08,.08,.08,.06,.06,.08,.06,.06]
};
const cubeTriple4Band = {
 QC:[0,0,0,0,0,0,0,0,0,0,0, .03,.04,.05,.06,.07,.08,.08,.08,.08,.08],
 QCFQL:[0,0,0,0,0,0,0,0,0,0,0, .02,.04,.05,.06,.07,.08,.08,.08,.08,.08],
 RLPD:[0, .02,.04,.05,.06,.07,.08,.08,.08,.08,.08]
};
const cubeQuad1Band = {
 BFN:[0,0,0,0,0,0,0,.02,.02,.03,.05, .15,.12,.12,.15,.15,.15,.15,.12,.12,.1],
 FQL:[0,0,0,0,0,0,0,0,0,0,.03, .08,.08,.08,.08,.08,.08,.08,.08,.08,.08],
 QCRLPD:[0, .01,.02,.03,.05,.08,.1,.1,.12,.12,.12],
 FQLn:[0,.03,.05,.1,.1,.1,.1,.08,.08,.08,.08, 0,0,0,0,0,0,0,0,0,0],
 BFNn:[0,.02,.03,.05,.06,.06,.06,.06,.06,.08,.1, 0,0,0,0,0,0,0,0,0,0]
};
const cubeQuad2Band = {
 FQLn:[0,0,0,0,0,0,0,0,0,0,.02, .08,.1,.1,.1,.1,.1,.12,.12,.12,.12],
 BFN:[0,0,0,0,0,0,0,0,0,0,0, .03,.05,.05,.05,.05,.05,.05,.05,.03,.03],
 RLPDAC:[0, .02,.03,.04,.05,.06,.07,.08,.1,.1,.1]
};
const cubeQuad3Band = {
 FQLn:[0,0,0,0,0,0,0,.02,.03,.03,.03, .1,.1,.1,.08,.08,.08,.06,.05,.03,.03],
 QC:[0,0,0,0,0,0,0,0,0,0,0, .1,.08,.08,.06,.06,.05,.05,.05,.05,.05],
 QCFQL:[0,0,0,0,0,0,0,0,0,0,0, .1,.08,.05,.05,.04,.04,.04,.04,.04,.04]
};
const cubeQuad4Band = {
 FQLn:[0,0,0,0,0,0,0,0,0,0,0, .1,.1,.1,.1,.1,.1,.1,.1,.1,.1],
 QC:[0,0,0,0,0,0,0,0,0,0,0, .12,.1,.1,.1,.08,.08,.07,.07,.06,.06]
};
const NO_BAND = {};

const TASK_TITLES = [
 'puzzle-3x3-sparse-task1','puzzle-3x3-sparse-task2','puzzle-3x3-sparse-task3','puzzle-3x3-sparse-task4','puzzle-3x3-sparse-task5',
 'scene-sparse-task1','scene-sparse-task2','scene-sparse-task3','scene-sparse-task4','scene-sparse-task5',
 'cube-double-play-task1','cube-double-play-task2','cube-double-play-task3','cube-double-play-task4','cube-double-play-task5',
 'cube-triple-play-task1','cube-triple-play-task2','cube-triple-play-task3','cube-triple-play-task4','cube-triple-play-task5',
 'cube-quadruple-play-task1','cube-quadruple-play-task2','cube-quadruple-play-task3','cube-quadruple-play-task4','cube-quadruple-play-task5'
];
const TASK_DATA = [puzzle1,puzzle2,puzzle3,puzzle4,puzzle5,scene1,scene2,scene3,scene4,scene5,
 cubeDouble1,cubeDouble2,cubeDouble3,cubeDouble4,cubeDouble5,cubeTriple1,cubeTriple2,cubeTriple3,cubeTriple4,cubeTriple5,
 cubeQuad1,cubeQuad2,cubeQuad3,cubeQuad4,cubeQuad5];
const TASK_BANDS = [NO_BAND,puzzle2Band,puzzle3Band,puzzle4Band,puzzle5Band,scene1Band,scene2Band,scene3Band,scene4Band,scene5Band,
 cubeDouble1Band,cubeDouble2Band,cubeDouble3Band,cubeDouble4Band,cubeDouble5Band,cubeTriple1Band,cubeTriple2Band,cubeTriple3Band,cubeTriple4Band,NO_BAND,
 cubeQuad1Band,cubeQuad2Band,cubeQuad3Band,cubeQuad4Band,NO_BAND];

// ---------- styles ----------
const METHODS = [
 {key:'QC', name:'QC', color:'#d92f7f', symbol:'circle', online:false},
 {key:'QCFQL', name:'QC-FQL', color:'#db5f95', symbol:'square', online:false},
 {key:'QCIFQL', name:'QC-IFQL', color:'#f08cba', symbol:'triangle-down', online:false},
 {key:'QCRLPD', name:'QC-RLPD', color:'#ee98c0', symbol:'triangle-up', online:true},
 {key:'BFNn', name:'BFN-n', color:'#8c6bbd', symbol:'circle', online:false},
 {key:'FQLn', name:'FQL-n', color:'#9780c4', symbol:'square', online:false},
 {key:'IFQLn', name:'IFQL-n', color:'#7659ae', symbol:'triangle-down', online:false},
 {key:'BFN', name:'BFN', color:'#2a8bcc', symbol:'circle', online:false},
 {key:'FQL', name:'FQL', color:'#379ad6', symbol:'square', online:false},
 {key:'IFQL', name:'IFQL', color:'#a7c9ea', symbol:'triangle-down', online:false},
 {key:'ReBRAC', name:'ReBRAC', color:'#a9c7e7', symbol:'circle', online:false},
 {key:'IQL', name:'IQL', color:'#b2cfec', symbol:'circle', online:false},
 {key:'SUPEGT', name:'SUPE-GT', color:'#9dc0e4', symbol:'triangle-up', online:true},
 {key:'RLPDAC', name:'RLPD-AC', color:'#6a9dd3', symbol:'diamond', online:true},
 {key:'RLPD', name:'RLPD', color:'#5d8ecf', symbol:'triangle-up', online:true}
];
function rgbOf(hex){return [parseInt(hex.slice(1,3),16),parseInt(hex.slice(3,5),16),parseInt(hex.slice(5,7),16)];}
function tint(hex, f){
  const c=rgbOf(hex); const m=v=>Math.round(v+(255-v)*f);
  return 'rgb('+m(c[0])+','+m(c[1])+','+m(c[2])+')';
}
function rgba(hex,a){const c=rgbOf(hex);return 'rgba('+c[0]+','+c[1]+','+c[2]+','+a+')';}

const W=1053, H=709;
const LEFTS=[66,268,470,672,874];
const TOPS=[73,197.5,322,446.5,571];
const PW=169, PH=87;
const FONT='DejaVu Sans, sans-serif';

const layout = {
  width:W, height:H, margin:{l:0,r:0,t:0,b:0},
  paper_bgcolor:'#ffffff', plot_bgcolor:'#f7f7f7',
  showlegend:true, shapes:[], annotations:[],
  font:{family:FONT, size:9, color:'#222'}
};
const bandTraces = [];
const lineTraces = [];

TASK_TITLES.forEach((title, t) => {
  const r=Math.floor(t/5), c=t%5, n=t+1;
  const sx = n===1?'':String(n);
  const L=LEFTS[c], T=TOPS[r];
  const axisCommon = {ticks:'outside', ticklen:3, tickwidth:0.8, tickcolor:'#333',
    tickfont:{family:FONT,size:8.5,color:'#222'},
    showgrid:true, gridcolor:'#e2e2e2', gridwidth:0.8, zeroline:false, showline:false, fixedrange:true};
  layout['xaxis'+sx] = Object.assign({domain:[L/W,(L+PW)/W], range:[-0.05,2.05], anchor:'y'+sx,
    tickvals:X_TICKS, ticktext:X_TICK_TEXT}, axisCommon);
  layout['yaxis'+sx] = Object.assign({domain:[1-(T+PH)/H, 1-T/H], range:[-0.05,1.05], anchor:'x'+sx,
    tickvals:Y_TICKS, ticktext:Y_TICK_TEXT}, axisCommon);
  layout.shapes.push({type:'rect', xref:'x'+sx, yref:'y'+sx+' domain', x0:-0.05, x1:1.0, y0:0, y1:1,
    fillcolor:'#dcdcdc', line:{width:0}, layer:'below'});
  layout.annotations.push({text:title, xref:'paper', yref:'paper', x:(L+PW/2)/W, y:1-(T-2)/H,
    xanchor:'center', yanchor:'bottom', showarrow:false, font:{family:FONT,size:10.5,color:'#222'}});

  const data = TASK_DATA[t], bands = TASK_BANDS[t];
  for (let i=METHODS.length-1;i>=0;i--){
    const m=METHODS[i];
    const ys=data[m.key];
    if(!ys) continue;
    const xs = m.online?ONLINE_STEPS:STEPS;
    const sp = bands[m.key];
    if(sp){
      const up = ys.map((v,k)=>Math.min(1.02,v+sp[k]));
      const lo = ys.map((v,k)=>Math.max(-0.02,v-sp[k]));
      bandTraces.push({type:'scatter', mode:'lines', x:xs.concat(xs.slice().reverse()), y:up.concat(lo.slice().reverse()),
        fill:'toself', fillcolor:rgba(m.color,0.2), line:{width:0}, xaxis:'x'+sx, yaxis:'y'+sx,
        showlegend:false, hoverinfo:'skip'});
    }
    lineTraces.push({
      type:'scatter', mode:'lines+markers', x:xs, y:ys,
      xaxis:'x'+sx, yaxis:'y'+sx, showlegend:false, hoverinfo:'skip',
      line:{color:m.color,width:1.3},
      marker:{symbol:m.symbol,size:5.5,color:tint(m.color,0.45),line:{color:m.color,width:1.2}}
    });
  }
});

// legend: 8 columns x 2 rows (column-major), one small legend per column
const LEG_TEXT_X=[237,307,386,461,536,601,681,795];
const legendTraces=[];
METHODS.forEach((m,i)=>{
  const col=Math.floor(i/2);
  const lid = col===0?'legend':'legend'+(col+1);
  legendTraces.push({type:'scatter', mode:'lines+markers', x:[null], y:[null], name:m.name, legend:lid,
    showlegend:true, hoverinfo:'skip', xaxis:'x', yaxis:'y',
    line:{color:m.color,width:1.3},
    marker:{symbol:m.symbol,size:5.5,color:tint(m.color,0.45),line:{color:m.color,width:1.2}}});
});
for(let col=0;col<8;col++){
  const lid = col===0?'legend':'legend'+(col+1);
  layout[lid]={x:(LEG_TEXT_X[col]-40)/W, y:1+1/H, xanchor:'left', yanchor:'top', orientation:'v',
    bgcolor:'rgba(0,0,0,0)', borderwidth:0, font:{family:FONT,size:10,color:'#222'},
    tracegroupgap:0, itemwidth:30, traceorder:'normal'};
}
layout.shapes.push({type:'rect', xref:'paper', yref:'paper', x0:205/W, x1:850/W, y0:1-41/H, y1:1-3/H,
  fillcolor:'rgba(255,255,255,0)', line:{color:'#d0d0d0',width:1}, layer:'above'});

layout.annotations.push({text:'Success Rate', xref:'paper', yref:'paper', x:18/W, y:1-370/H, textangle:-90,
  xanchor:'center', yanchor:'middle', showarrow:false, font:{family:'Noto Sans, sans-serif',size:12.5,color:'#222'}});
layout.annotations.push({text:'Steps (×10⁶)', xref:'paper', yref:'paper', x:553/W, y:1-681/H,
  xanchor:'center', yanchor:'middle', showarrow:false, font:{family:'DejaVu Sans, sans-serif',size:11.5,color:'#222'}});

Plotly.newPlot('chart', bandTraces.concat(lineTraces, legendTraces), layout, {staticPlot:true, displayModeBar:false});
</script></body></html>
